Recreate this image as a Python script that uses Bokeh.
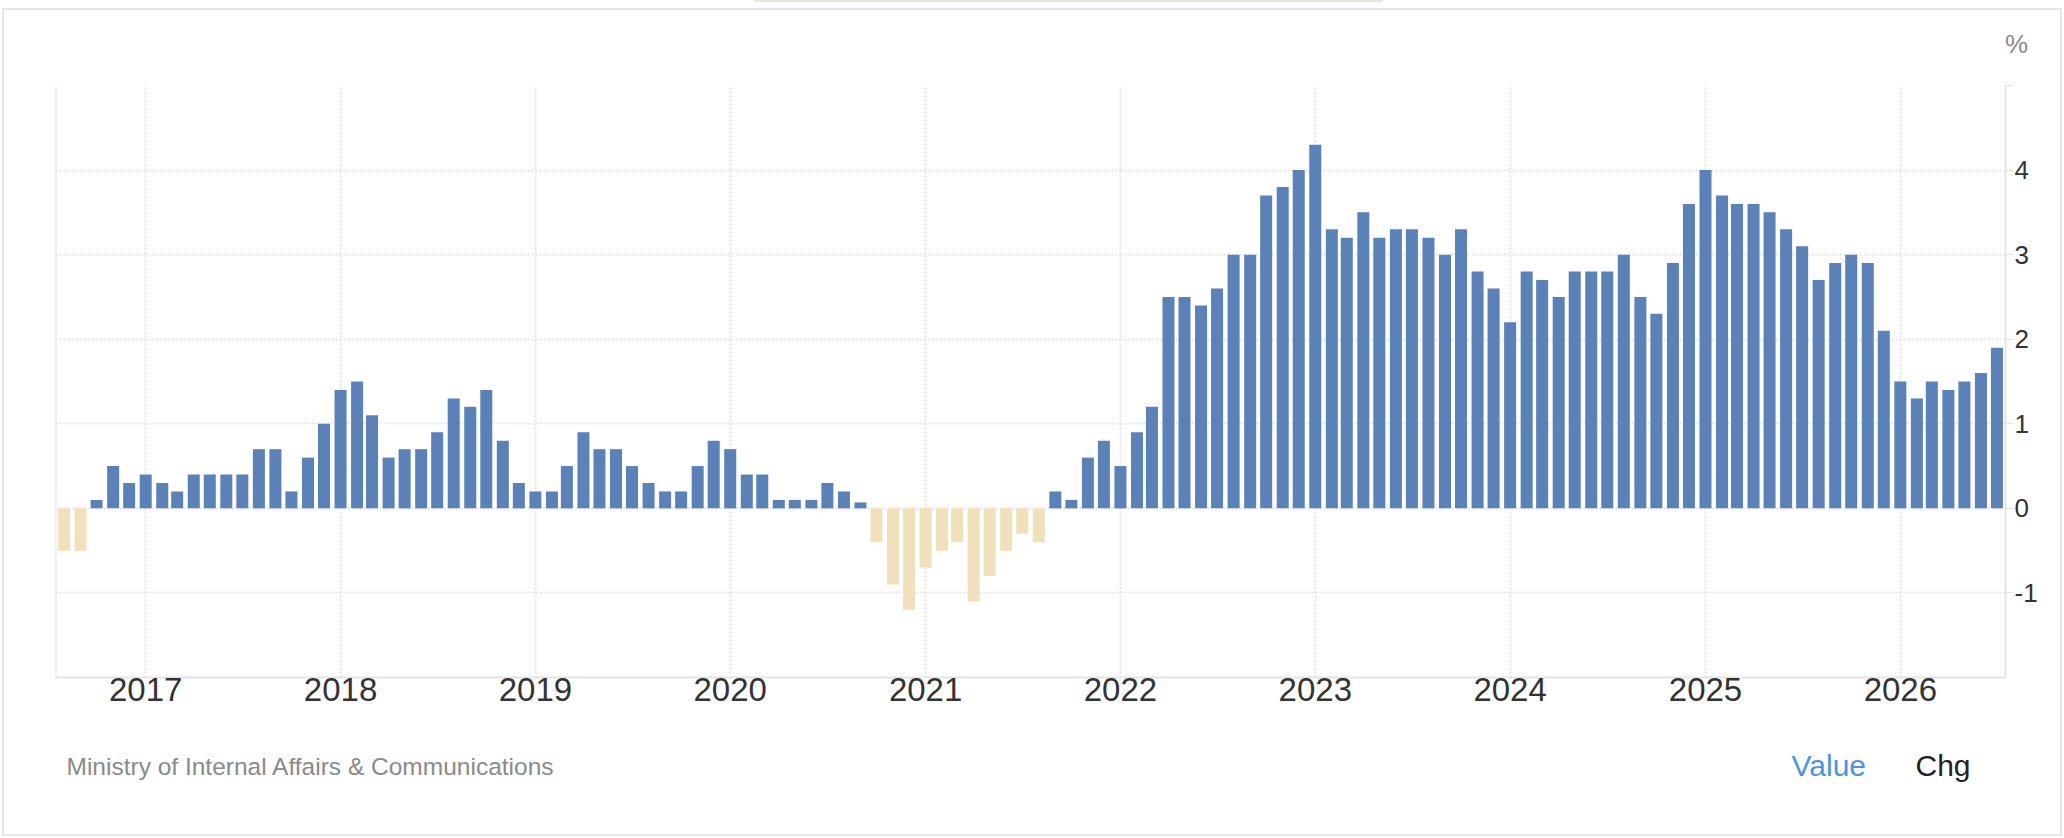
import pandas as pd
from bokeh.plotting import figure
from bokeh.layouts import column, row
from bokeh.models import (Range1d, FixedTicker, DatetimeTickFormatter, Span,
                          ColumnDataSource, Plot, Spacer)
from bokeh.core.properties import value
from bokeh.embed import file_html
from bokeh.resources import INLINE

# ---------------- data ----------------
first_month = "2016-08-01"
cpi_values = [
    -0.5, -0.5, 0.1, 0.5, 0.3,                                   # 2016 Aug-Dec
    0.4, 0.3, 0.2, 0.4, 0.4, 0.4, 0.4, 0.7, 0.7, 0.2, 0.6, 1.0,  # 2017
    1.4, 1.5, 1.1, 0.6, 0.7, 0.7, 0.9, 1.3, 1.2, 1.4, 0.8, 0.3,  # 2018
    0.2, 0.2, 0.5, 0.9, 0.7, 0.7, 0.5, 0.3, 0.2, 0.2, 0.5, 0.8,  # 2019
    0.7, 0.4, 0.4, 0.1, 0.1, 0.1, 0.3, 0.2, 0.07, -0.4, -0.9, -1.2,  # 2020
    -0.7, -0.5, -0.4, -1.1, -0.8, -0.5, -0.3, -0.4, 0.2, 0.1, 0.6, 0.8,  # 2021
    0.5, 0.9, 1.2, 2.5, 2.5, 2.4, 2.6, 3.0, 3.0, 3.7, 3.8, 4.0,  # 2022
    4.3, 3.3, 3.2, 3.5, 3.2, 3.3, 3.3, 3.2, 3.0, 3.3, 2.8, 2.6,  # 2023
    2.2, 2.8, 2.7, 2.5, 2.8, 2.8, 2.8, 3.0, 2.5, 2.3, 2.9, 3.6,  # 2024
    4.0, 3.7, 3.6, 3.6, 3.5, 3.3, 3.1, 2.7, 2.9, 3.0, 2.9, 2.1,  # 2025
    1.5, 1.3, 1.5, 1.4, 1.5, 1.6, 1.9,                           # 2026 Jan-Jul
]
year_ticks = [2017, 2018, 2019, 2020, 2021, 2022, 2023, 2024, 2025, 2026]
y_tick_values = [-1, 0, 1, 2, 3, 4, 5]
y_tick_labels = ["-1", "0", "1", "2", "3", "4", ""]
y_grid_values = [-1, 0, 1, 2, 3, 4, 5]
unit_text = "%"
source_text = "Ministry of Internal Affairs & Communications"
toggle_labels = ["Value", "Chg"]

# ---------------- styles / layout (page pixels) ----------------
POS_COLOR = "#5b81b9"
NEG_COLOR = "#f1e1ba"
GRID_COLOR = "#e3e3e3"
AXIS_COLOR = "#e4e4e4"
TEXT_COLOR = "#333333"
BOX_COLOR = "#e6e6ea"
FONT = "Liberation Sans"
ASCENT = 0.905      # Liberation Sans ascent (em)

W = 2064
PAGE_H = 838
TAB_H, GAP_H = 2, 4
INNER_TOP = TAB_H + GAP_H                 # 6
FT, FB = 85, 677                          # frame top / bottom on the page
FL, FR = 55, 2005                         # frame left / right on the page
MAIN_BOTTOM = 51
TOP_H = FT - INNER_TOP
MAIN_H = (FB - FT) + MAIN_BOTTOM
BOT_TOP = FB + MAIN_BOTTOM
BOT_H = PAGE_H - BOT_TOP

HAS_ALIGN = "frame_align" in Plot.properties()

months = pd.date_range(first_month, periods=len(cpi_values), freq="MS")
colors = [POS_COLOR if v >= 0 else NEG_COLOR for v in cpi_values]
src = ColumnDataSource(dict(x=months, top=cpi_values, color=colors))

x0 = pd.Timestamp("2016-07-16")
x1 = pd.Timestamp("2026-07-17")
y0, y1 = -2.0, 5.0
x0_ms = x0.value / 1e6

# ---------------- main chart ----------------
p = figure(width=W, height=MAIN_H, x_axis_type="datetime",
           x_range=Range1d(x0, x1), y_range=Range1d(y0, y1),
           y_axis_location="right",
           output_backend="svg", toolbar_location=None,
           min_border_left=FL, min_border_right=W - FR,
           min_border_top=0, min_border_bottom=MAIN_BOTTOM)
if HAS_ALIGN:
    p.frame_align = False
p.outline_line_color = None
p.background_fill_color = None
p.border_fill_color = None

bar_width_ms = 22.5 * 86400000
p.vbar(x="x", top="top", bottom=0, width=bar_width_ms, source=src,
       fill_color="color", line_color=None)

year_ms = [pd.Timestamp(f"{y}-01-01").value / 1e6 for y in year_ticks]

xa = p.xaxis[0]
xa.ticker = FixedTicker(ticks=year_ms)
fmt = "%Y"
xa.formatter = DatetimeTickFormatter(years=fmt, months=fmt, days=fmt, hours=fmt,
                                     minutes=fmt, seconds=fmt, milliseconds=fmt,
                                     microseconds=fmt)
xa.axis_line_color = AXIS_COLOR
xa.axis_line_width = 2
xa.major_tick_out = 0
xa.major_tick_in = 0
xa.minor_tick_out = 0
xa.minor_tick_in = 0
xa.major_label_standoff = 0
xa.major_label_text_font = FONT
xa.major_label_text_font_size = "33px"
xa.major_label_text_color = TEXT_COLOR

ya = p.yaxis[0]
ya.ticker = FixedTicker(ticks=y_tick_values)
ya.major_label_overrides = dict(zip(y_tick_values, y_tick_labels))
ya.axis_line_color = AXIS_COLOR
ya.axis_line_width = 2
ya.major_tick_out = 8
ya.major_tick_in = 0
ya.major_tick_line_color = AXIS_COLOR
ya.major_tick_line_width = 1
ya.minor_tick_out = 0
ya.minor_tick_in = 0
ya.major_label_standoff = 1
ya.major_label_text_font = FONT
ya.major_label_text_font_size = "26px"
ya.major_label_text_color = TEXT_COLOR

p.xgrid.ticker = FixedTicker(ticks=year_ms)
p.ygrid.ticker = FixedTicker(ticks=y_grid_values)
for g in (p.xgrid[0], p.ygrid[0]):
    g.grid_line_color = GRID_COLOR
    g.grid_line_width = 2
    g.grid_line_dash = "2 2"

p.add_layout(Span(location=x0_ms, dimension="height", line_color=AXIS_COLOR,
                  line_width=2))


# ---------------- text strips ----------------
def strip(height):
    f = figure(width=W, height=height, x_range=Range1d(0, W),
               y_range=Range1d(0, height), x_axis_location=None,
               y_axis_location=None, output_backend="svg",
               toolbar_location=None, min_border=0, title=None)
    f.title = None
    if HAS_ALIGN:
        f.frame_align = False
    f.grid.visible = False
    f.outline_line_color = None
    f.background_fill_color = None
    f.border_fill_color = None
    return f


def put_text(fig, strip_top, strip_h, x, baseline_page_y, size, txt, color,
             align="left"):
    # place text by its top edge (same mechanism as the axis labels)
    top_page_y = baseline_page_y - ASCENT * size
    fig.text(x=[x], y=[strip_h - (top_page_y - strip_top)], text=[txt],
             text_align=align, text_baseline="top", text_font=value(FONT),
             text_font_size=f"{size}px", text_color=color)


top = strip(TOP_H)
put_text(top, INNER_TOP, TOP_H, 2016, 52, 26, unit_text, "#8a8a8a",
         align="center")

bot = strip(BOT_H)
put_text(bot, BOT_TOP, BOT_H, 66, 775, 24.5, source_text, "#8a8a8a")
put_text(bot, BOT_TOP, BOT_H, 1791, 776, 30, toggle_labels[0], "#4a93ea")
put_text(bot, BOT_TOP, BOT_H, 1915, 776, 30, toggle_labels[1], "#222222")

inner = column(top, p, bot, spacing=0)
inner.styles = {"outline": f"2px solid {BOX_COLOR}", "outline-offset": "-4px"}

tab_row = row(Spacer(width=754, height=TAB_H),
              Spacer(width=629, height=TAB_H,
                     styles={"background-color": "#e5e7e0"}),
              Spacer(width=W - 754 - 629, height=TAB_H), spacing=0)

layout = column(tab_row, Spacer(width=W, height=GAP_H), inner, spacing=0)

open("out.html", "w").write(file_html(layout, INLINE))
